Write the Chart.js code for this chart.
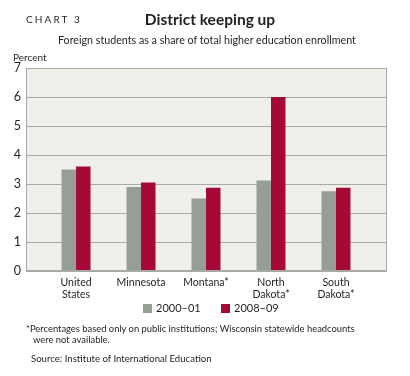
<!DOCTYPE html>
<html><head><meta charset="utf-8">
<script src="https://cdn.jsdelivr.net/npm/chart.js@4/dist/chart.umd.min.js"></script>
<style>
html,body{margin:0;padding:0;background:#fff;}
#wrap{position:relative;width:410px;height:376px;font-family:Lato,"Open Sans",sans-serif;color:#231f20;}
canvas{position:absolute;left:0;top:0;}
.t{position:absolute;white-space:nowrap;}
.sq{display:inline-block;width:9px;height:9px;vertical-align:-1px;margin-right:4px;}
</style></head>
<body><div id="wrap">
<canvas id="c" width="410" height="376"></canvas>
<div class="t" style="left:26px;top:13px;font-size:10px;letter-spacing:2.1px;">CHART 3</div>
<div class="t" style="left:0;width:410px;text-align:center;top:10px;font-size:15.5px;font-weight:bold;padding-left:10px;box-sizing:border-box;">District keeping up</div>
<div class="t" style="left:58px;top:33px;font-size:10.7px;">Foreign students as a share of total higher education enrollment</div>
<div class="t" style="left:13px;top:51px;font-size:10px;">Percent</div>
<div class="t" style="left:143px;top:301px;font-size:11px;"><span class="sq" style="background:#979e96"></span>2000–01</div>
<div class="t" style="left:221px;top:301px;font-size:11px;"><span class="sq" style="background:#a50a36"></span>2008–09</div>
<div class="t" style="left:26px;top:323px;font-size:9.4px;line-height:11px;">*Percentages based only on public institutions; Wisconsin statewide headcounts<br>&nbsp;&nbsp;&nbsp;were not available.</div>
<div class="t" style="left:31px;top:353px;font-size:9.6px;">Source: Institute of International Education</div>
</div>
<script>
const categories = [["United","States"],"Minnesota","Montana*",["North","Dakota*"],["South","Dakota*"]];
const seriesNames = ["2000–01","2008–09"];
const values2000 = [3.5, 2.9, 2.5, 3.12, 2.75];
const values2008 = [3.6, 3.05, 2.87, 6.0, 2.87];
const yTicks = [0,1,2,3,4,5,6,7];

const toPoints = arr => arr.map((v,i)=>({x:i, y:v}));

const bgPlugin = {
  id:'bg',
  beforeDraw(chart){
    const {ctx, chartArea:a} = chart;
    ctx.save();
    ctx.fillStyle = '#eff0ea';
    ctx.fillRect(a.left, a.top, a.right-a.left, a.bottom-a.top);
    ctx.restore();
  },
  afterDatasetsDraw(chart){
    const {ctx, chartArea:a} = chart;
    ctx.save();
    ctx.strokeStyle = '#a9aaa6';
    ctx.lineWidth = 1;
    ctx.strokeRect(a.left+0.5, a.top+0.5, a.right-a.left-1, a.bottom-a.top-1);
    ctx.restore();
  }
};

new Chart(document.getElementById('c'), {
  type:'bar',
  data:{
    datasets:[
      {label:seriesNames[0], data:toPoints(values2000), backgroundColor:'#979e96', categoryPercentage:0.446, barPercentage:1.0},
      {label:seriesNames[1], data:toPoints(values2008), backgroundColor:'#a50a36', categoryPercentage:0.446, barPercentage:1.0}
    ]
  },
  options:{
    responsive:false,
    animation:false,
    devicePixelRatio:1,
    layout:{padding:{left:0,right:23,top:68,bottom:0}},
    plugins:{legend:{display:false}, tooltip:{enabled:false}},
    scales:{
      x:{
        type:'linear',
        min:-0.77, max:4.785,
        offset:false,
        afterBuildTicks(s){ s.ticks = categories.map((c,i)=>({value:i})); },
        grid:{display:false, drawTicks:false},
        border:{display:false},
        ticks:{color:'#231f20', font:{family:'Lato', size:10.5}, padding:5, maxRotation:0, autoSkip:false,
               callback:(v)=>categories[v]},
        afterFit(s){ s.height = 105; s.paddingLeft = 0; s.paddingRight = 0; }
      },
      y:{
        min:0, max:7,
        afterBuildTicks(s){ s.ticks = yTicks.map(v=>({value:v})); },
        grid:{color:'#a9aaa6', drawTicks:false, lineWidth:1},
        border:{display:false},
        ticks:{color:'#231f20', font:{family:'Lato', size:12.5}, padding:5},
        afterFit(s){ s.width = 26; s.paddingTop = 0; s.paddingBottom = 0; }
      }
    }
  },
  plugins:[bgPlugin]
});
</script>
</body></html>
